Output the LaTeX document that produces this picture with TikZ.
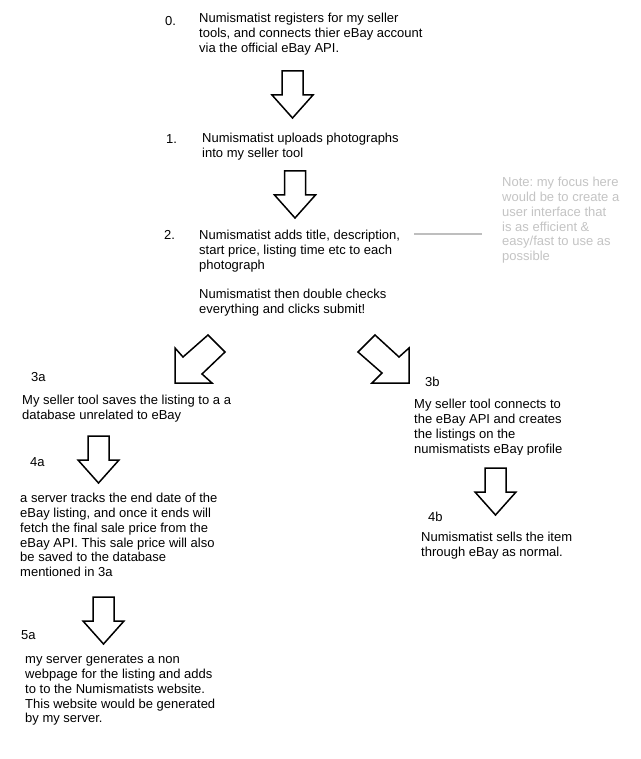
\documentclass[tikz,border=0pt]{standalone}
\usepackage{fontspec}
\setmainfont{Liberation Sans}
\frenchspacing
\definecolor{notegray}{RGB}{196,196,196}
\definecolor{linegray}{RGB}{190,190,190}
\begin{document}
\begin{tikzpicture}[x=1pt,y=-1pt,
  txt/.style={anchor=north west, inner sep=0pt, align=left, font=\fontsize{13}{14.8}\selectfont},
  notetxt/.style={txt, text=notegray},
  arrowline/.style={draw=black, line width=1.5pt, line join=miter, fill=white},
  noteline/.style={draw=linegray, line width=2pt},
  downarr/.pic={\draw[arrowline] (-10.5,0) -- (-10.5,24) -- (-20.5,24) -- (0,47) -- (20.5,24) -- (10.5,24) -- (10.5,0) -- cycle;}
]
\useasboundingbox[fill=white] (0,0) rectangle (640,759);

% step 0
\node[txt] (n0num) at (165,16) {0.};
\node[txt] (n0) at (199,13) {Numismatist registers for my seller\\tools, and connects thier eBay account\\via the official eBay API.};
\pic at (292.5,71) {downarr};

% step 1
\node[txt] (n1num) at (166,134) {1.};
\node[txt] (n1) at (202,133) {Numismatist uploads photographs\\into my seller tool};
\pic at (295,171) {downarr};

% step 2
\node[txt] (n2num) at (164,230) {2.};
\node[txt] (n2) at (199,230) {Numismatist adds title, description,\\start price, listing time etc to each\\photograph};
\node[txt] (n2b) at (199,289) {Numismatist then double checks\\everything and clicks submit!};

% note
\coordinate (lineA) at (414,234);
\coordinate (lineB) at (482,234);
\draw[noteline] (lineA) -- (lineB);
\node[notetxt] (note) at (502,177) {Note: my focus here\\would be to create a\\user interface that\\is as efficient \&\\easy/fast to use as\\possible};

% diagonal arrows
\draw[arrowline] (208,335) -- (183,357) -- (175,348) -- (175,383) -- (212,383) -- (202,374) -- (225,352) -- cycle;
\draw[arrowline] (375,335) -- (399,357) -- (409,348) -- (409,383) -- (372,383) -- (382,373) -- (358,352) -- cycle;

% 3a
\node[txt] (n3anum) at (31,372) {3a};
\node[txt] (n3a) at (22,395) {My seller tool saves the listing to a a\\database unrelated to eBay};
\pic at (98.5,436) {downarr};

% 3b (last line clipped as in the reference)
\node[txt] (n3bnum) at (425,377) {3b};
\begin{scope}
\clip (405,390) rectangle (620,454);
\node[txt] (n3b) at (414,399) {My seller tool connects to\\the eBay API and creates\\the listings on the\\numismatists eBay profile};
\end{scope}
\pic at (495.5,468) {downarr};

% 4a
\node[txt] (n4anum) at (30,457) {4a};
\node[txt] (n4a) at (20,493) {a server tracks the end date of the\\eBay listing, and once it ends will\\fetch the final sale price from the\\eBay API. This sale price will also\\be saved to the database\\mentioned in 3a};
\pic at (103.5,597) {downarr};

% 4b
\node[txt] (n4bnum) at (428,512) {4b};
\node[txt] (n4b) at (421,532) {Numismatist sells the item\\through eBay as normal.};

% 5a
\node[txt] (n5anum) at (21,630) {5a};
\node[txt] (n5a) at (25,655) {my server generates a non\\webpage for the listing and adds\\to to the Numismatists website.\\This website would be generated\\by my server.};
\end{tikzpicture}
\end{document}
